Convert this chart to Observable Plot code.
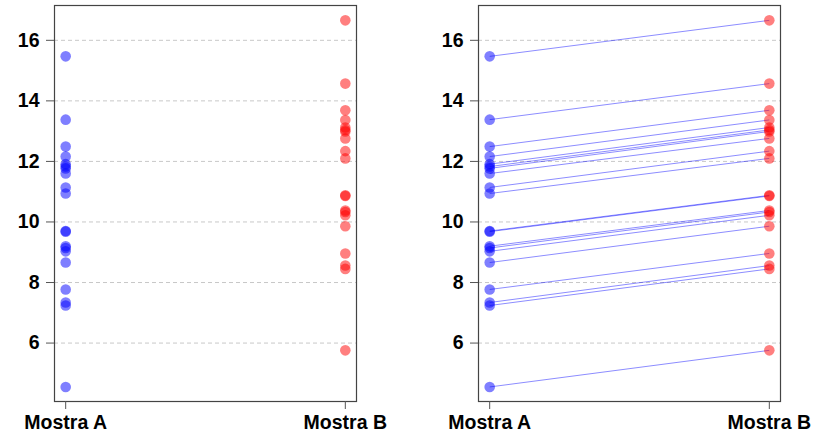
<!DOCTYPE html>
<html>
<head>
<meta charset="utf-8">
<script src="https://cdn.jsdelivr.net/npm/d3@7"></script>
<script src="https://cdn.jsdelivr.net/npm/@observablehq/plot@0.6"></script>
<style>
  html, body { margin: 0; padding: 0; background: #fff; }
  #wrap { display: flex; flex-direction: row; width: 819px; height: 433px; }
</style>
</head>
<body>
<div id="wrap"></div>
<script>
const categories = ["Mostra A", "Mostra B"];
const mostraA = [15.47, 13.38, 12.49, 12.16, 11.91, 11.83, 11.77, 11.60, 11.14, 10.94, 9.70, 9.68, 9.20, 9.14, 9.03, 8.66, 7.77, 7.34, 7.24, 4.55];
const mostraB = [16.66, 14.57, 13.69, 13.37, 13.12, 13.04, 12.99, 12.76, 12.34, 12.10, 10.88, 10.86, 10.38, 10.33, 10.22, 9.86, 8.96, 8.56, 8.45, 5.76];
const yTicks = [6, 8, 10, 12, 14, 16];

const pairs = mostraA.map((a, i) => ({a, b: mostraB[i]}));
const pts = [
  ...mostraA.map(v => ({x: 1, y: v, g: "A"})),
  ...mostraB.map(v => ({x: 2, y: v, g: "B"}))
];

function panel(width, mL, mR, withLines) {
  const marks = [
    Plot.gridY(yTicks, {stroke: "#c8c8c8", strokeOpacity: 1, strokeDasharray: "4,3"}),
  ];
  if (withLines) {
    marks.push(Plot.link(pairs, {x1: () => 1, y1: "a", x2: () => 2, y2: "b", stroke: "blue", strokeOpacity: 0.45, strokeWidth: 1}));
  }
  marks.push(
    Plot.dot(pts, {x: "x", y: "y", r: 5.3, fill: d => d.g === "A" ? "blue" : "red", fillOpacity: 0.5, stroke: "none"}),
    Plot.frame({stroke: "#444", strokeWidth: 1.2}),
    Plot.axisY({ticks: yTicks, tickSize: 8, tickPadding: 7, label: null, stroke: "#555", fill: "black"}),
    Plot.axisX({ticks: [1, 2], tickFormat: i => categories[i - 1], tickSize: 8, tickPadding: 6, label: null, stroke: "#555", fill: "black"})
  );
  return Plot.plot({
    width, height: 433,
    marginLeft: mL, marginRight: mR, marginTop: 5, marginBottom: 32,
    x: {type: "linear", domain: [0.96, 2.04]},
    y: {domain: [4.07, 17.15]},
    style: {fontFamily: "'Liberation Sans', Arial, sans-serif", fontSize: "19.5px", fontWeight: "bold", background: "white", overflow: "visible"},
    marks
  });
}

const wrap = document.getElementById("wrap");
wrap.appendChild(panel(410, 54, 54, false));
wrap.appendChild(panel(409, 68, 39, true));
</script>
</body>
</html>
